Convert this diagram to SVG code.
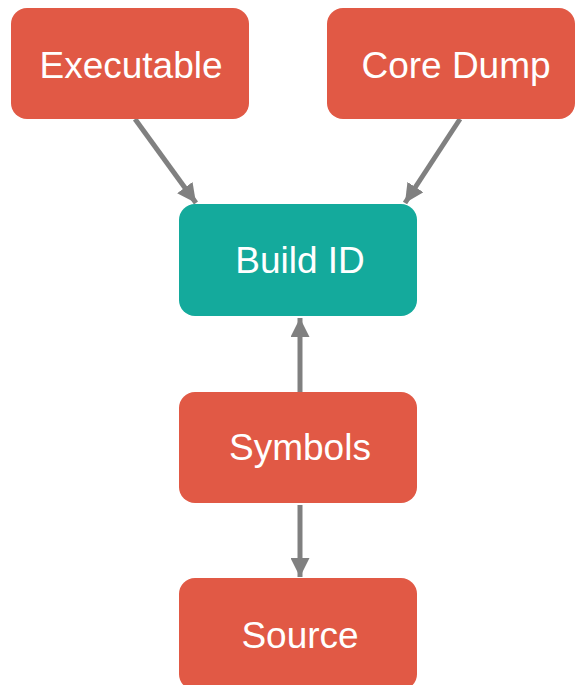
<svg xmlns="http://www.w3.org/2000/svg" width="575" height="685" viewBox="0 0 575 685">
  <defs>
    <style>
      .box { stroke: none; }
      .red { fill: #E15945; }
      .teal { fill: #14AA9C; }
      .label { font-family: "Liberation Sans", Arial, sans-serif; font-size: 37px; fill: #ffffff; text-anchor: middle; }
      .edge { stroke: #808080; stroke-width: 5; fill: none; }
    </style>
    <marker id="arrow" viewBox="0 0 10 10" refX="10" refY="5" markerWidth="3.8" markerHeight="3.8" markerUnits="strokeWidth" orient="auto">
      <path d="M0,0 L10,5 L0,10 z" fill="#808080"/>
    </marker>
  </defs>

  <g id="connectors">
    <line class="edge" x1="135" y1="119" x2="196" y2="203" marker-end="url(#arrow)"/>
    <line class="edge" x1="460" y1="119" x2="405" y2="203" marker-end="url(#arrow)"/>
    <line class="edge" x1="300" y1="392" x2="300" y2="318" marker-end="url(#arrow)"/>
    <line class="edge" x1="300" y1="505" x2="300" y2="577" marker-end="url(#arrow)"/>
  </g>

  <g id="executable">
    <rect class="box red" x="11" y="8" width="238" height="111" rx="16"/>
    <text class="label" x="131" y="78">Executable</text>
  </g>

  <g id="core-dump">
    <rect class="box red" x="327" y="8" width="248" height="111" rx="16"/>
    <text class="label" x="456" y="78">Core Dump</text>
  </g>

  <g id="build-id">
    <rect class="box teal" x="179" y="204" width="238" height="112" rx="16"/>
    <text class="label" x="300" y="273">Build ID</text>
  </g>

  <g id="symbols">
    <rect class="box red" x="179" y="392" width="238" height="111" rx="16"/>
    <text class="label" x="300" y="460">Symbols</text>
  </g>

  <g id="source">
    <rect class="box red" x="179" y="578" width="238" height="112" rx="16"/>
    <text class="label" x="300" y="648">Source</text>
  </g>
</svg>
